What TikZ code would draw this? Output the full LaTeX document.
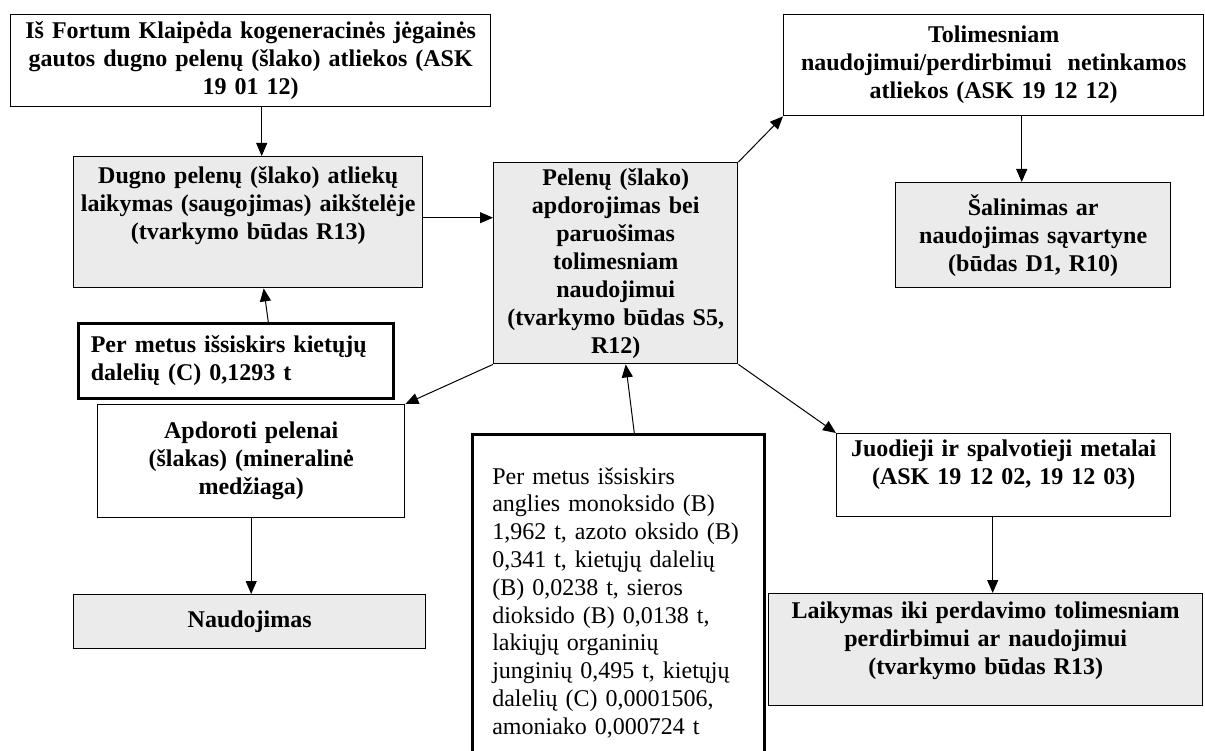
\documentclass[tikz,border=0pt]{standalone}
\usepackage{fontspec}
\setmainfont{Liberation Serif}
\usetikzlibrary{arrows.meta}

\begin{document}
\begin{tikzpicture}[x = 1pt, y = -1pt, > = {Triangle[length = 13pt, width = 11pt]},
	box/.style = {draw, line width = 1.4pt, anchor = north west, inner xsep = 2pt, inner ysep = 5pt,
		align = center, font = \fontsize{24}{28}\selectfont\bfseries},
	shaded/.style = {box, fill = black!8},
	heavy/.style = {box, line width = 2.6pt, align = left, inner xsep = 12.5pt},
	link/.style = {->, line width = 1pt}]

	% Page

	\useasboundingbox (0, 0) rectangle (1205, 751);
	\clip (0, 0) rectangle (1205, 751);

	% Left column

	\node (fortum) [box, minimum width = 480pt, minimum height = 92pt, text width = 476pt] at (10, 14)
		{Iš Fortum Klaipėda kogeneracinės jėgainės\\ gautos dugno pelenų (šlako) atliekos (ASK\\ 19 01 12)};
	\node (storage) [shaded, minimum width = 349pt, minimum height = 131pt, text width = 345pt, text depth = 94pt] at (73, 156)
		{Dugno pelenų (šlako) atliekų\\ laikymas (saugojimas) aikštelėje\\ (tvarkymo būdas R13)};
	\node (dust) [heavy, minimum width = 315pt, minimum height = 75pt, text width = 290pt] at (77, 322)
		{Per metus išsiskirs kietųjų\\ dalelių (C) 0,1293 t};
	\node (slag) [box, minimum width = 307pt, minimum height = 113pt, text width = 303pt] at (97, 404)
		{Apdoroti pelenai\\ (šlakas) (mineralinė\\ medžiaga)};
	\node (use) [shaded, minimum width = 352pt, minimum height = 54pt, text width = 348pt] at (73, 594)
		{Naudojimas};

	% Middle column

	\node (treatment) [shaded, minimum width = 244pt, minimum height = 201pt, text width = 240pt] at (493, 162)
		{Pelenų (šlako)\\ apdorojimas bei\\ paruošimas\\ tolimesniam\\ naudojimui\\ (tvarkymo būdas S5,\\ R12)};
	\node (emissions) [heavy, font = \fontsize{24}{27.8}\selectfont, minimum width = 292pt, text width = 252pt,
		inner xsep = 20pt, inner ysep = 33pt] at (471, 433)
		{Per metus išsiskirs\\ anglies monoksido (B)\\ 1,962 t, azoto oksido (B)\\ 0,341 t, kietųjų dalelių\\ (B) 0,0238 t, sieros\\
		dioksido (B) 0,0138 t,\\ lakiųjų organinių\\ junginių 0,495 t, kietųjų\\ dalelių (C) 0,0001506,\\ amoniako 0,000724 t};

	% Right column

	\node (unfit) [box, minimum width = 420pt, minimum height = 101pt, text width = 416pt] at (783, 14)
		{Tolimesniam\\ naudojimui/perdirbimui\ \ netinkamos\\ atliekos (ASK 19 12 12)};
	\node (disposal) [shaded, minimum width = 275pt, minimum height = 105pt, text width = 271pt] at (895, 182)
		{Šalinimas ar\\ naudojimas sąvartyne\\ (būdas D1, R10)};
	\node (metals) [box, minimum width = 334pt, minimum height = 83pt, text width = 330pt, text depth = 54pt] at (836, 433)
		{Juodieji ir spalvotieji metalai\\ (ASK 19 12 02, 19 12 03)};
	\node (keeping) [shaded, minimum width = 434pt, minimum height = 112pt, text width = 430pt, text depth = 80pt] at (768, 593)
		{Laikymas iki perdavimo tolimesniam\\ perdirbimui ar naudojimui\\ (tvarkymo būdas R13)};

	% Arrows

	\draw [link] ([xshift = 11pt] fortum.south) -- ([xshift = 11pt] fortum.south |- storage.north);
	\draw [link] ([yshift = 4.5pt] storage.east) -- ([yshift = 4.5pt] storage.east -| treatment.west);
	\draw [link] ([xshift = 32.5pt] dust.north) -- ([xshift = 15.5pt] storage.south);
	\draw [link] (treatment.south west) -- (slag.north east);
	\draw [link] ([xshift = 16pt] emissions.north) -- ([xshift = 10pt] treatment.south);
	\draw [link] (treatment.north east) -- (unfit.south west);
	\draw [link] (treatment.south east) -- (metals.north west);
	\draw [link] ([xshift = -11.5pt] disposal.north |- unfit.south) -- ([xshift = -11.5pt] disposal.north);
	\draw [link] ([xshift = -11pt] metals.south) -- ([xshift = -11pt] metals.south |- keeping.north);
	\draw [link] (slag.south) -- (slag.south |- use.north);

\end{tikzpicture}
\end{document}
